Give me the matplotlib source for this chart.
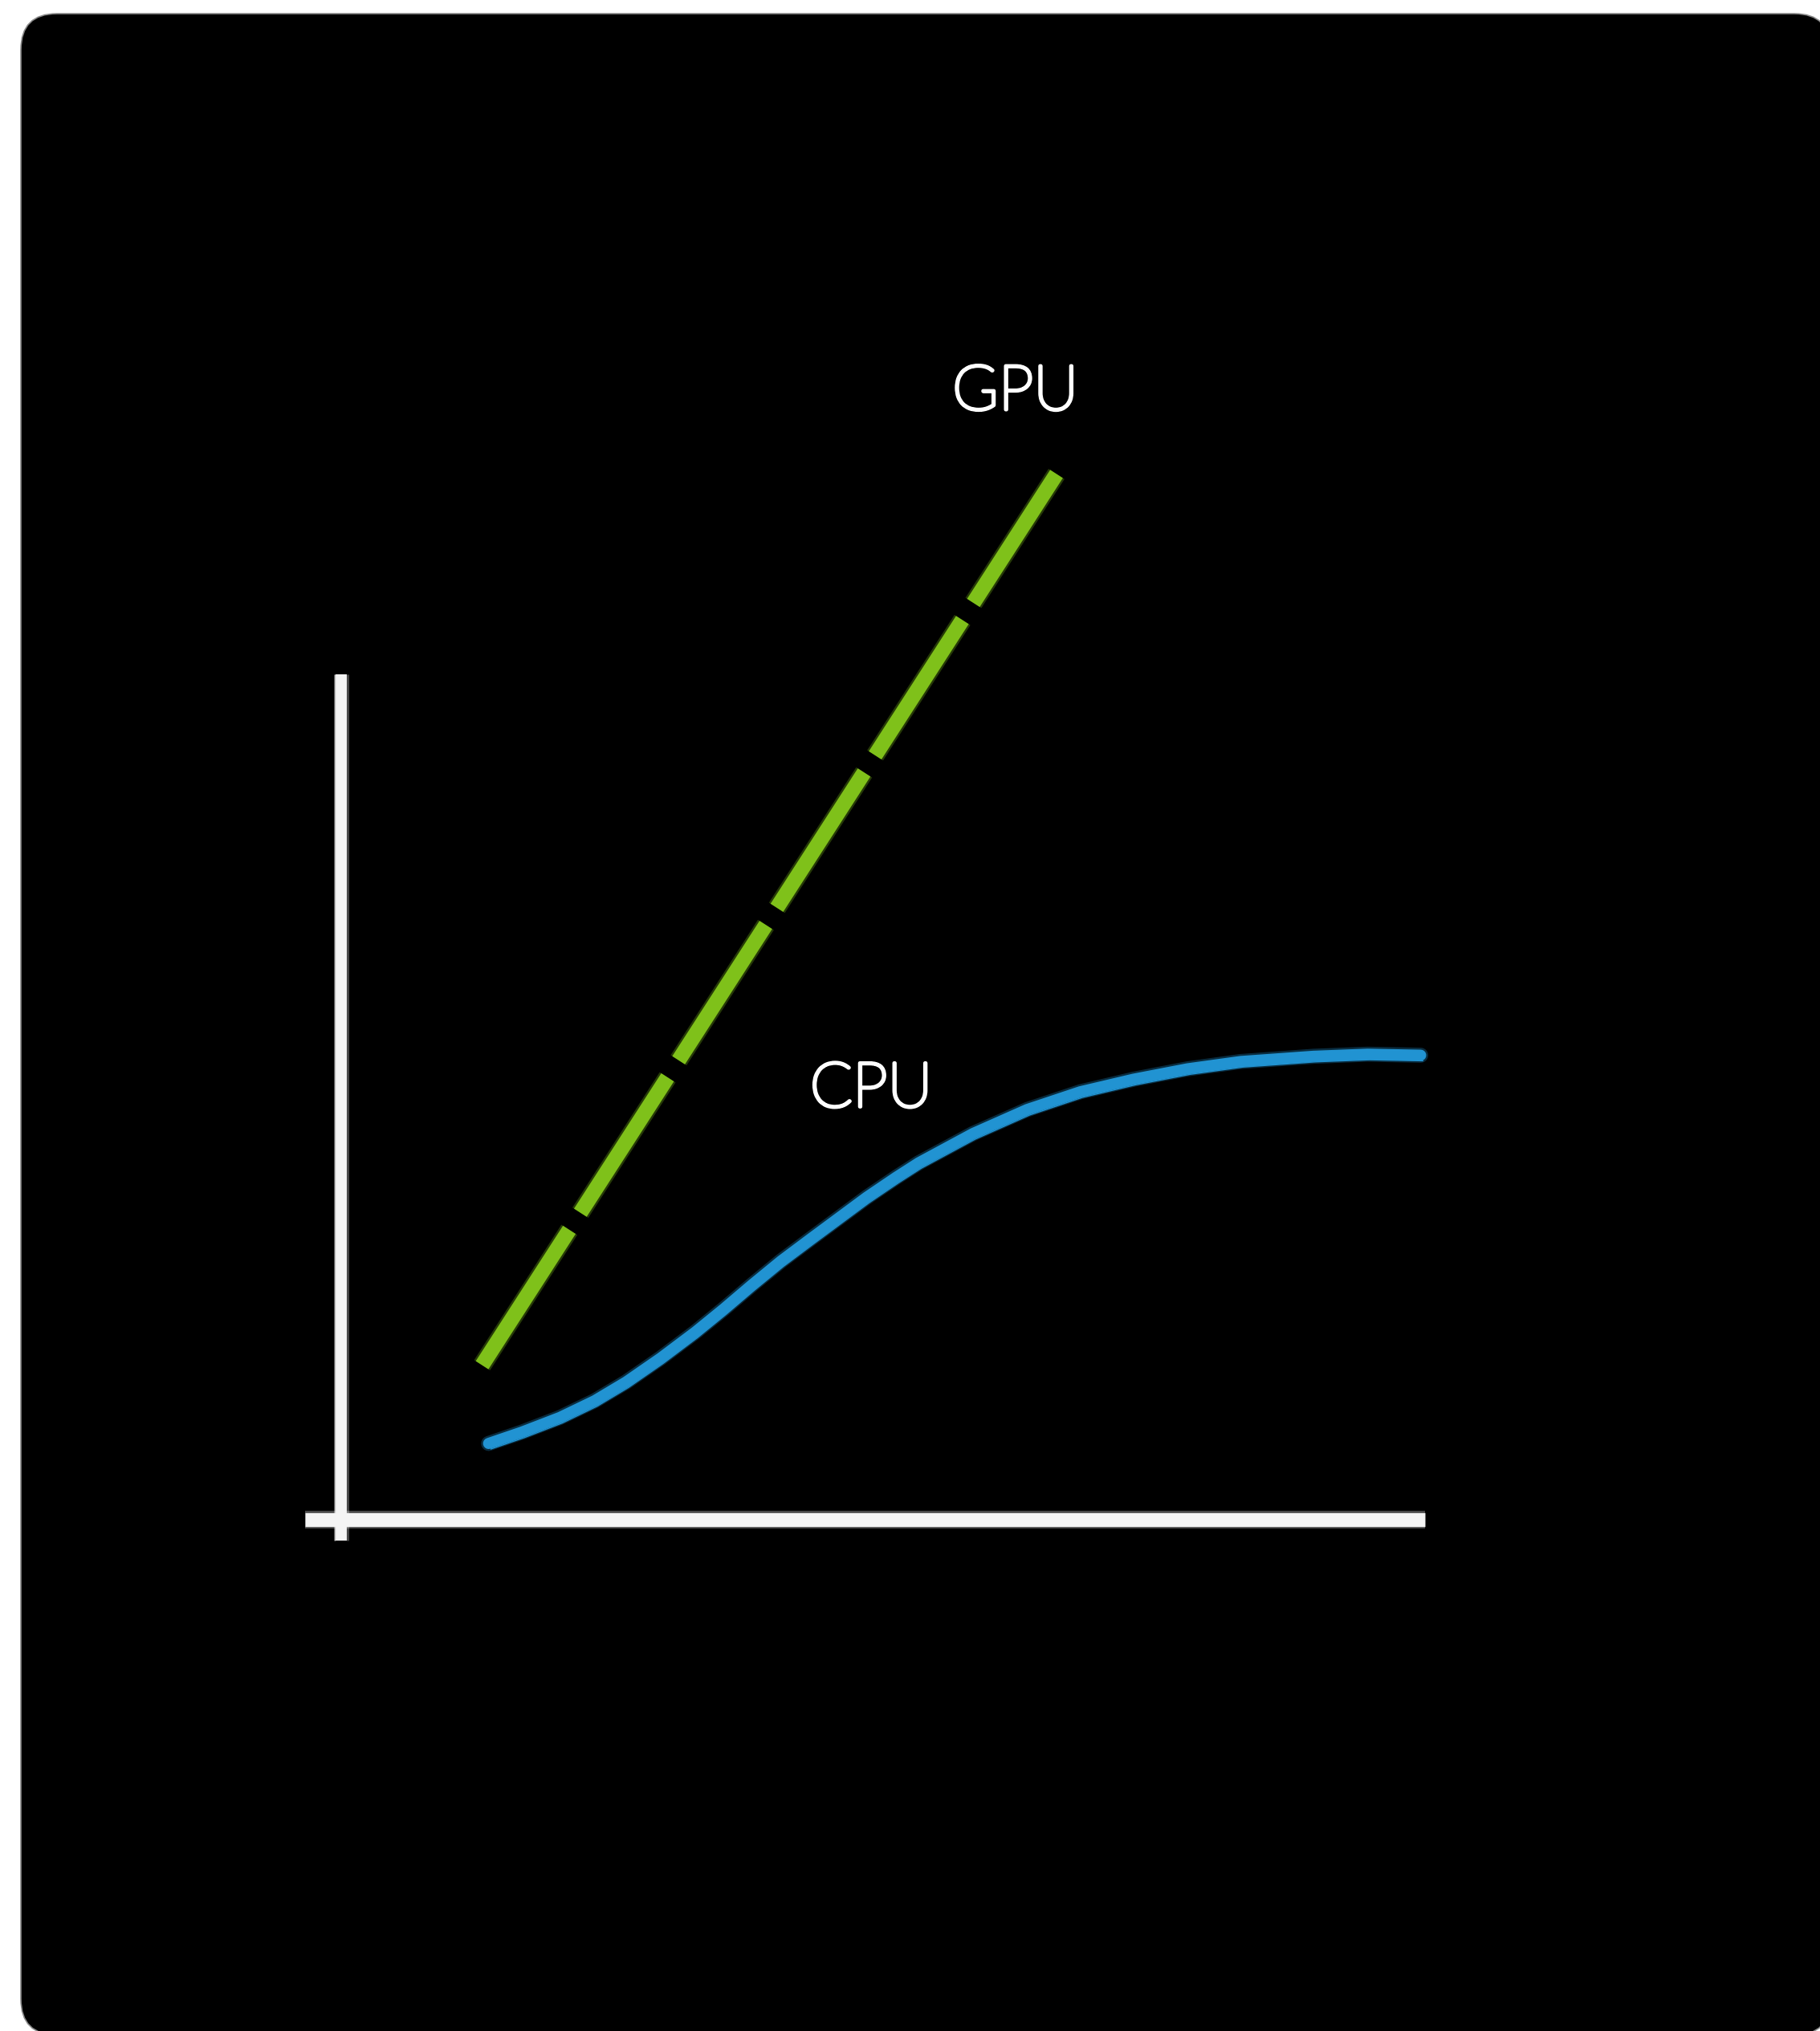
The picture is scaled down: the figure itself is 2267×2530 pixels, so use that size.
import matplotlib
matplotlib.use("Agg")
import matplotlib.pyplot as plt
from matplotlib.patches import FancyBboxPatch
import matplotlib.patheffects as pe

# -------------------------------------------------
# DATA
# -------------------------------------------------

gpu_x = [1.30, 6.60]
gpu_y = [1.48, 10.02]

cpu_x = [1.36, 1.67, 2.02, 2.34, 2.63, 2.95, 3.27, 3.53, 3.79, 4.06, 4.33, 4.59,
         4.85, 5.12, 5.33, 5.83, 6.33, 6.82, 7.31, 7.81, 8.30, 8.97, 9.47, 9.96]
cpu_y = [0.73, 0.84, 0.98, 1.14, 1.32, 1.55, 1.80, 2.02, 2.25, 2.48, 2.69, 2.89,
         3.09, 3.28, 3.42, 3.70, 3.93, 4.10, 4.22, 4.32, 4.39, 4.44, 4.46, 4.45]

labels = ["GPU", "CPU"]
label_x = [6.22, 4.89]
label_y = [10.80, 4.12]

x_axis_x = [-0.33, 10.0]
x_axis_y = [0.0, 0.0]
y_axis_x = [0.0, 0.0]
y_axis_y = [-0.2, 8.1]

GREEN = "#7fc11a"
BLUE = "#2193d2"
CHALK = "#f4f4f4"

# -------------------------------------------------
# FIGURE
# -------------------------------------------------

fig = plt.figure(figsize=(22.67, 25.30), dpi=100)
fig.patch.set_facecolor("white")

# black board with rounded corners (inches)
board = FancyBboxPatch((0.26, -0.05), 22.54, 25.18,
                       boxstyle="round,pad=0,rounding_size=0.45",
                       transform=fig.dpi_scale_trans,
                       facecolor="black", edgecolor="#8a8a8a", linewidth=1.2,
                       zorder=-10)
fig.add_artist(board)

ax = fig.add_axes([0.18747, 0.25178, 0.5955, 0.51383])
ax.set_zorder(5)
ax.set_xlim(0, 10)
ax.set_ylim(0, 10)
ax.axis("off")
ax.patch.set_alpha(0)


def chalk(color, lw):
    # soft grainy edge under the main stroke
    return [pe.Stroke(linewidth=lw + 3.5, foreground=color, alpha=0.3),
            pe.Normal()]


# axes drawn as chalk strokes
ax.plot(y_axis_x, y_axis_y, color=CHALK, lw=10, solid_capstyle="butt",
        clip_on=False,
        path_effects=[pe.Stroke(linewidth=1.0, foreground=CHALK, alpha=0.7,
                                offset=(-6, 0))] + chalk(CHALK, 10))
ax.plot(x_axis_x, x_axis_y, color=CHALK, lw=12.5, solid_capstyle="butt",
        clip_on=False, path_effects=chalk(CHALK, 12.5))

# GPU dashed line
ax.plot(gpu_x, gpu_y, color=GREEN, lw=13.5, linestyle=(0, (10.7, 1.35)),
        dash_capstyle="butt", clip_on=False, path_effects=chalk(GREEN, 13.5))

# CPU curve
ax.plot(cpu_x, cpu_y, color=BLUE, lw=10, solid_capstyle="round",
        solid_joinstyle="round", clip_on=False,
        path_effects=[pe.Stroke(linewidth=1.0, foreground=BLUE, offset=(2, -5))]
        + chalk(BLUE, 10))

# thin font thickened with an even round stroke, like a marker pen
for t, x, y in zip(labels, label_x, label_y):
    ax.text(x, y, t, color="white", fontsize=56, fontfamily="Lato",
            fontweight="light", ha="center", va="center", clip_on=False,
            path_effects=[pe.withStroke(linewidth=3.2, foreground="white",
                                        capstyle="round", joinstyle="round")])

fig.savefig("out.png", dpi=100)
